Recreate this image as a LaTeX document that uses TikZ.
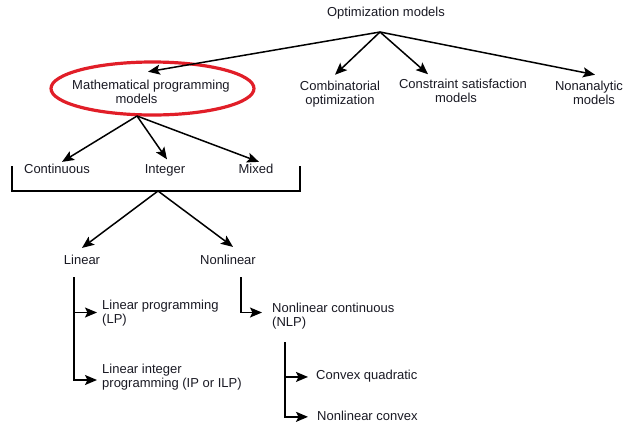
\documentclass[tikz,border=0pt]{standalone}
\usepackage{fontspec}
\setmainfont{Liberation Sans}
\usetikzlibrary{arrows.meta}
\definecolor{ellred}{RGB}{225,30,40}
\definecolor{txt}{RGB}{25,25,35}
\tikzset{
  lbl/.style={inner sep=0pt, font=\fontsize{13}{14}\selectfont, align=center, text=txt},
  lbll/.style={inner sep=0pt, font=\fontsize{13}{14}\selectfont, align=left, text=txt},
  arr/.style={-{Stealth[length=12pt,width=10pt,inset=2.5pt]}, line width=1.5pt},
  ln/.style={line width=1.5pt}
}
\begin{document}
\begin{tikzpicture}[x=1pt,y=-1pt]
\useasboundingbox (0,0) rectangle (630,424);
% top level
\node[lbl, anchor=base] (opt) at (386,16) {Optimization models};
\node[lbl] (mp) at (151,91.7) {Mathematical programming\\\makebox[71pt][l]{models}};
\node[lbl] (comb) at (340,94) {Combinatorial\\optimization};
\node[lbl] (cons) at (463,91.2) {Constraint satisfaction\\\makebox[56pt][l]{models}};
\node[lbl] (nonan) at (589,92.7) {Nonanalytic\\\makebox[52pt][r]{models}};
\draw[ellred, line width=3.2pt] (152.5,88.5) ellipse [x radius=101.5, y radius=26.5];
\coordinate (optb) at (380,32);
\draw[arr] (optb) -- ([shift={(-3,-8)}]mp.north);
\draw[arr] (optb) -- ([shift={(-5,-6)}]comb.north);
\draw[arr] (optb) -- ([shift={(-35,-5)}]cons.north);
\draw[arr] (optb) -- ([shift={(6,-6)}]nonan.north);
% second level
\node[lbl, anchor=base] (cont) at (57,173.5) {Continuous};
\node[lbl, anchor=base] (int) at (165,173.5) {Integer};
\node[lbl, anchor=base] (mix) at (256,173.5) {Mixed};
\coordinate (mpb) at (137,116);
\draw[arr] (mpb) -- ([shift={(5,-2)}]cont.north);
\draw[arr] (mpb) -- ([shift={(2,-5)}]int.north);
\draw[arr] (mpb) -- ([shift={(3,-2)}]mix.north);
% bracket
\coordinate (brl) at (12,166);
\coordinate (brr) at (300,166);
\coordinate (brb) at (158,191);
\draw[ln] (brl) |- (brb) -| (brr);
% third level
\node[lbl, anchor=base] (lin) at (82,264) {Linear};
\node[lbl, anchor=base] (nonlin) at (228,264) {Nonlinear};
\draw[arr] (brb) -- ([shift={(0,-6.5)}]lin.north);
\draw[arr] (brb) -- ([shift={(5,-7.5)}]nonlin.north);
% linear subtree
\node[lbll, anchor=west] (lp) at (102,313.5) {Linear programming\\(LP)};
\node[lbll, anchor=west] (lip) at (102,377.5) {Linear integer\\programming (IP or ILP)};
\coordinate (lint) at (74,277);
\draw[arr] (lint) |- ([shift={(-5,2.5)}]lip.west);
\draw[arr] (lint) |- ([shift={(-5,-1)}]lp.west);
% nonlinear subtree
\node[lbll, anchor=west] (nlp) at (272,316) {Nonlinear continuous\\(NLP)};
\coordinate (nlt) at (241,277);
\draw[arr] (nlt) |- ([shift={(-10,-3.5)}]nlp.west);
\node[lbl, anchor=base west] (cq) at (316,379.5) {Convex quadratic};
\node[lbl, anchor=base west] (nc) at (317,420.5) {Nonlinear convex};
\coordinate (nlpt) at (285,342);
\draw[arr] (nlpt) |- ([shift={(-8,0.8)}]cq.west);
\draw[arr] (nlpt) |- ([shift={(-9,1)}]nc.west);
\end{tikzpicture}
\end{document}
